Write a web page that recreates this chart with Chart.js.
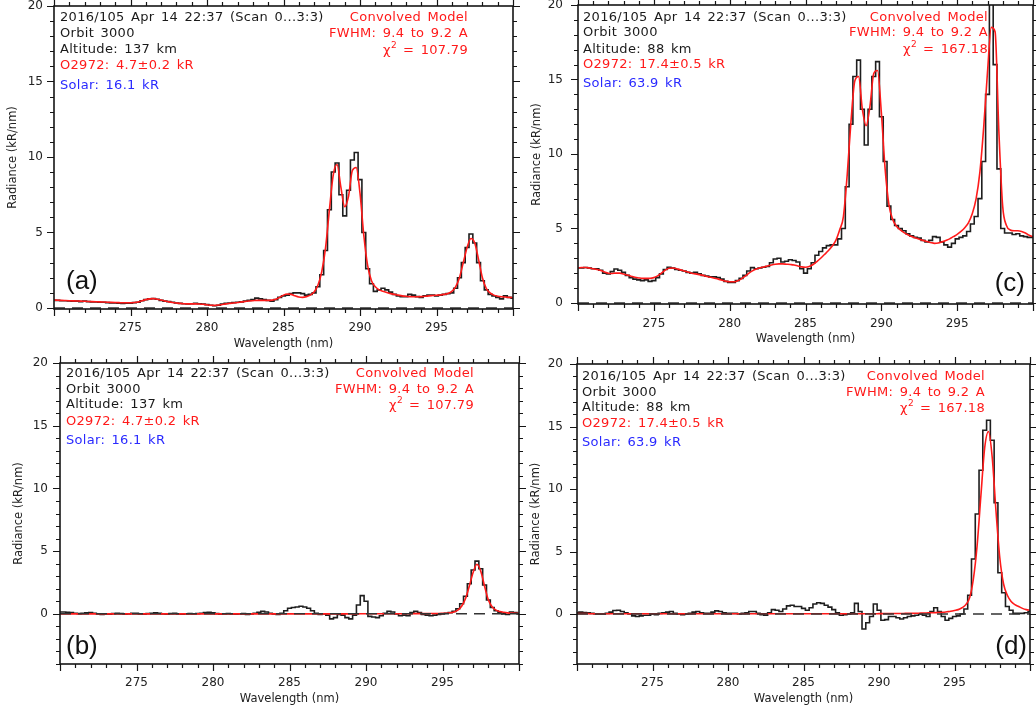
<!DOCTYPE html>
<html><head><meta charset="utf-8">
<script src="https://cdn.jsdelivr.net/npm/chart.js@4.4.1/dist/chart.umd.min.js"></script>
<style>
html,body{margin:0;padding:0;background:#fff;width:1036px;height:709px;overflow:hidden;position:relative;}
canvas{position:absolute;}
.t{position:absolute;font-family:"DejaVu Sans",sans-serif;font-size:13px;line-height:16px;white-space:nowrap;letter-spacing:0.3px;word-spacing:2px;}
.k{color:#1a1a1a}.red{color:#ff1a1a}.blue{color:#2a2aff}
.sup{font-size:9px;position:relative;top:-6px;letter-spacing:0;}
.lab{position:absolute;font-family:"Liberation Sans",Arial,sans-serif;font-size:26px;line-height:30px;color:#111;white-space:nowrap;}
</style></head><body>
<canvas id="ca"></canvas><canvas id="cc"></canvas><canvas id="cb"></canvas><canvas id="cd"></canvas>

<!-- panel (a) text -->
<div class="t k" style="left:60px;top:9px">2016/105 Apr 14 22:37 (Scan 0...3:3)</div>
<div class="t k" style="left:60px;top:25px">Orbit 3000</div>
<div class="t k" style="left:60px;top:41px">Altitude: 137 km</div>
<div class="t red" style="left:60px;top:57px">O2972: 4.7±0.2 kR</div>
<div class="t blue" style="left:60px;top:77px">Solar: 16.1 kR</div>
<div class="t red" style="right:568px;top:9px">Convolved Model</div>
<div class="t red" style="right:568px;top:25px">FWHM: 9.4 to 9.2 A</div>
<div class="t red" style="right:568px;top:42px">χ<span class="sup">2</span> = 107.79</div>
<div class="lab" style="left:66px;top:265px">(a)</div>

<!-- panel (c) text -->
<div class="t k" style="left:583px;top:9px">2016/105 Apr 14 22:37 (Scan 0...3:3)</div>
<div class="t k" style="left:583px;top:24px">Orbit 3000</div>
<div class="t k" style="left:583px;top:41px">Altitude: 88 km</div>
<div class="t red" style="left:583px;top:56px">O2972: 17.4±0.5 kR</div>
<div class="t blue" style="left:583px;top:75px">Solar: 63.9 kR</div>
<div class="t red" style="right:48px;top:9px">Convolved Model</div>
<div class="t red" style="right:48px;top:24px">FWHM: 9.4 to 9.2 A</div>
<div class="t red" style="right:48px;top:41px">χ<span class="sup">2</span> = 167.18</div>
<div class="lab" style="right:11px;top:267px">(c)</div>

<!-- panel (b) text -->
<div class="t k" style="left:66px;top:365px">2016/105 Apr 14 22:37 (Scan 0...3:3)</div>
<div class="t k" style="left:66px;top:381px">Orbit 3000</div>
<div class="t k" style="left:66px;top:396px">Altitude: 137 km</div>
<div class="t red" style="left:66px;top:413px">O2972: 4.7±0.2 kR</div>
<div class="t blue" style="left:66px;top:432px">Solar: 16.1 kR</div>
<div class="t red" style="right:562px;top:365px">Convolved Model</div>
<div class="t red" style="right:562px;top:381px">FWHM: 9.4 to 9.2 A</div>
<div class="t red" style="right:562px;top:397px">χ<span class="sup">2</span> = 107.79</div>
<div class="lab" style="left:66px;top:630px">(b)</div>

<!-- panel (d) text -->
<div class="t k" style="left:582px;top:368px">2016/105 Apr 14 22:37 (Scan 0...3:3)</div>
<div class="t k" style="left:582px;top:384px">Orbit 3000</div>
<div class="t k" style="left:582px;top:399px">Altitude: 88 km</div>
<div class="t red" style="left:582px;top:415px">O2972: 17.4±0.5 kR</div>
<div class="t blue" style="left:582px;top:434px">Solar: 63.9 kR</div>
<div class="t red" style="right:51px;top:368px">Convolved Model</div>
<div class="t red" style="right:51px;top:384px">FWHM: 9.4 to 9.2 A</div>
<div class="t red" style="right:51px;top:400px">χ<span class="sup">2</span> = 167.18</div>
<div class="lab" style="right:9px;top:630px">(d)</div>

<script>
// ---------- DATA ----------
const wavelength = [
  270.00,270.25,270.50,270.75,271.00,271.25,271.50,271.75,272.00,272.25,
  272.50,272.75,273.00,273.25,273.50,273.75,274.00,274.25,274.50,274.75,
  275.00,275.25,275.50,275.75,276.00,276.25,276.50,276.75,277.00,277.25,
  277.50,277.75,278.00,278.25,278.50,278.75,279.00,279.25,279.50,279.75,
  280.00,280.25,280.50,280.75,281.00,281.25,281.50,281.75,282.00,282.25,
  282.50,282.75,283.00,283.25,283.50,283.75,284.00,284.25,284.50,284.75,
  285.00,285.25,285.50,285.75,286.00,286.25,286.50,286.75,287.00,287.25,
  287.50,287.75,288.00,288.25,288.50,288.75,289.00,289.25,289.50,289.75,
  290.00,290.25,290.50,290.75,291.00,291.25,291.50,291.75,292.00,292.25,
  292.50,292.75,293.00,293.25,293.50,293.75,294.00,294.25,294.50,294.75,
  295.00,295.25,295.50,295.75,296.00,296.25,296.50,296.75,297.00,297.25,
  297.50,297.75,298.00,298.25,298.50,298.75,299.00,299.25,299.50,299.75,
  300.00];

// (a) 137 km, total
const obsA = [
  0.50,0.50,0.48,0.48,0.47,0.45,0.45,0.42,0.45,0.42,
  0.40,0.40,0.38,0.38,0.35,0.33,0.33,0.32,0.30,0.32,
  0.32,0.35,0.38,0.48,0.55,0.60,0.62,0.58,0.50,0.45,
  0.42,0.38,0.33,0.30,0.28,0.27,0.28,0.30,0.28,0.25,
  0.22,0.18,0.15,0.18,0.25,0.30,0.32,0.35,0.38,0.40,
  0.45,0.50,0.55,0.65,0.60,0.55,0.50,0.45,0.55,0.70,
  0.80,0.85,0.95,1.00,1.00,0.95,0.85,0.90,1.00,1.40,
  2.20,3.80,6.50,9.00,9.60,7.50,6.10,7.80,9.80,10.30,
  8.50,5.00,2.60,1.60,1.10,1.20,1.30,1.20,1.05,0.90,
  0.80,0.75,0.75,0.90,0.85,0.75,0.70,0.80,0.85,0.85,
  0.80,0.85,0.90,0.95,1.00,1.30,2.00,3.00,4.00,4.90,
  4.30,3.00,1.80,1.20,0.90,0.80,0.70,0.60,0.80,0.70,
  0.65];
const modelA = [
  0.52,0.51,0.50,0.49,0.48,0.47,0.46,0.45,0.44,0.43,
  0.42,0.41,0.40,0.39,0.38,0.37,0.36,0.35,0.34,0.34,
  0.34,0.36,0.40,0.48,0.55,0.60,0.62,0.58,0.52,0.46,
  0.40,0.36,0.33,0.30,0.28,0.27,0.27,0.27,0.26,0.24,
  0.21,0.18,0.17,0.19,0.23,0.27,0.30,0.33,0.36,0.40,
  0.43,0.46,0.48,0.50,0.50,0.50,0.50,0.52,0.58,0.70,
  0.85,0.92,0.90,0.80,0.72,0.70,0.75,0.85,1.05,1.50,
  2.40,4.00,6.50,8.80,9.50,8.00,6.70,7.40,9.10,9.30,
  7.60,4.80,2.80,1.80,1.40,1.20,1.10,1.02,0.95,0.90,
  0.85,0.80,0.77,0.75,0.74,0.74,0.75,0.77,0.80,0.82,
  0.84,0.86,0.90,0.96,1.10,1.40,2.00,3.00,4.00,4.60,
  4.30,3.20,2.00,1.30,1.00,0.85,0.78,0.74,0.72,0.70,
  0.69];

// (c) 88 km, total
const obsC = [
  2.35,2.35,2.38,2.35,2.30,2.30,2.20,2.00,1.95,2.10,
  2.28,2.20,2.05,1.85,1.70,1.60,1.55,1.50,1.55,1.45,
  1.50,1.70,1.95,2.25,2.40,2.35,2.25,2.20,2.15,2.05,
  2.00,2.05,1.95,1.85,1.80,1.75,1.75,1.70,1.60,1.45,
  1.38,1.38,1.50,1.65,1.85,2.15,2.37,2.30,2.35,2.40,
  2.45,2.70,2.95,3.00,2.75,2.80,2.90,2.85,2.75,2.30,
  2.00,2.30,2.70,3.20,3.45,3.70,3.85,3.90,3.90,4.30,
  5.00,7.80,12.00,15.20,16.30,13.00,10.60,13.00,15.20,16.20,
  12.50,9.50,6.50,5.60,5.20,5.00,4.85,4.65,4.50,4.40,
  4.35,4.20,4.10,4.20,4.45,4.40,4.10,3.90,3.75,4.00,
  4.30,4.40,4.50,4.80,5.30,5.80,7.00,9.50,14.00,20.50,
  16.00,9.00,5.00,4.70,4.70,4.60,4.65,4.50,4.45,4.40,
  4.40];
const modelC = [
  2.35,2.38,2.38,2.35,2.30,2.25,2.18,2.08,2.00,1.98,
  2.00,2.00,1.95,1.88,1.80,1.72,1.68,1.65,1.65,1.65,
  1.70,1.82,2.00,2.20,2.33,2.35,2.30,2.22,2.15,2.08,
  2.00,1.95,1.90,1.85,1.78,1.72,1.66,1.60,1.52,1.46,
  1.42,1.42,1.48,1.60,1.78,1.98,2.15,2.28,2.36,2.42,
  2.48,2.55,2.60,2.62,2.62,2.60,2.58,2.55,2.48,2.42,
  2.40,2.45,2.58,2.78,3.00,3.25,3.50,3.80,4.20,4.90,
  5.80,8.60,12.20,14.90,15.20,13.00,11.90,13.20,15.40,15.60,
  12.80,9.00,6.60,5.60,5.15,4.90,4.72,4.58,4.46,4.36,
  4.28,4.20,4.12,4.06,4.00,4.02,4.10,4.20,4.30,4.45,
  4.60,4.80,5.05,5.40,6.00,7.00,8.80,11.80,15.50,18.50,
  18.20,11.50,6.50,5.20,4.90,4.85,4.85,4.80,4.70,4.55,
  4.45];

// (b) 137 km, solar removed
const obsB = [
  0.15,0.15,0.12,0.10,0.05,0.02,0.05,0.08,0.10,0.05,
  0.00,-0.05,0.00,-0.03,0.02,0.05,0.03,-0.02,0.00,0.05,
  0.05,0.00,-0.03,0.02,0.05,0.08,0.05,0.00,-0.02,0.03,
  0.05,0.00,-0.03,0.00,0.02,0.00,0.02,0.05,0.10,0.12,
  0.08,0.02,-0.02,0.00,0.03,0.00,-0.03,0.00,0.02,-0.05,
  0.00,0.05,0.12,0.20,0.15,0.05,0.00,-0.05,0.05,0.25,
  0.45,0.50,0.55,0.60,0.55,0.45,0.25,0.05,-0.05,0.00,
  -0.10,-0.40,-0.30,-0.05,-0.10,-0.30,-0.40,-0.10,0.70,1.45,
  1.00,-0.20,-0.25,-0.30,-0.15,0.05,0.20,0.15,0.00,-0.15,
  -0.10,-0.15,0.10,0.20,0.10,-0.05,-0.10,-0.15,-0.10,-0.05,
  0.00,0.05,0.10,0.20,0.40,0.80,1.40,2.40,3.50,4.20,
  3.60,2.30,1.10,0.50,0.25,0.10,0.00,-0.05,0.15,0.10,
  0.00];
const modelB = [
  0.00,0.00,0.00,0.00,0.00,0.00,0.00,0.00,0.00,0.00,
  0.00,0.00,0.00,0.00,0.00,0.00,0.00,0.00,0.00,0.00,
  0.00,0.00,0.00,0.00,0.00,0.00,0.00,0.00,0.00,0.00,
  0.00,0.00,0.00,0.00,0.00,0.00,0.00,0.00,0.00,0.00,
  0.00,0.00,0.00,0.00,0.00,0.00,0.00,0.00,0.00,0.00,
  0.00,0.00,0.00,0.00,0.00,0.00,0.00,0.00,0.00,0.00,
  0.00,0.00,0.00,0.00,0.00,0.00,0.00,0.00,0.00,0.00,
  0.00,0.00,0.00,0.00,0.00,0.00,0.00,0.00,0.00,0.01,
  0.01,0.01,0.01,0.01,0.01,0.01,0.01,0.01,0.01,0.01,
  0.01,0.01,0.01,0.02,0.02,0.02,0.02,0.03,0.03,0.03,
  0.04,0.05,0.08,0.15,0.30,0.60,1.20,2.20,3.30,3.95,
  3.40,2.20,1.10,0.55,0.30,0.18,0.12,0.08,0.06,0.05,
  0.04];

// (d) 88 km, solar removed
const obsD = [
  0.10,0.15,0.12,0.10,0.05,0.00,0.00,0.00,0.05,0.15,
  0.28,0.30,0.20,0.10,0.00,-0.15,-0.20,-0.15,-0.10,-0.10,
  0.00,-0.05,0.05,0.10,0.15,0.20,0.05,0.00,-0.05,0.00,
  0.05,0.15,0.20,0.10,0.05,0.05,0.15,0.25,0.20,0.10,
  0.05,0.05,0.05,0.00,0.05,0.10,0.20,0.20,0.05,-0.05,
  -0.10,0.10,0.35,0.30,0.20,0.40,0.65,0.70,0.60,0.60,
  0.45,0.30,0.50,0.80,0.90,0.85,0.70,0.55,0.35,0.10,
  -0.10,-0.05,0.00,0.10,0.85,0.20,-1.20,-0.70,-0.20,0.80,
  0.30,-0.50,-0.45,-0.20,-0.20,-0.30,-0.40,-0.30,-0.20,-0.15,
  -0.10,0.00,-0.10,-0.20,0.20,0.50,0.20,-0.20,-0.50,-0.35,
  -0.20,-0.15,0.00,0.40,1.50,4.40,8.00,11.50,14.70,15.50,
  13.90,8.90,3.30,1.70,0.60,0.30,0.05,0.05,0.05,0.10,
  0.20];
const modelD = [
  0.03,0.03,0.03,0.03,0.02,0.02,0.02,0.02,0.02,0.02,
  0.02,0.02,0.02,0.02,0.02,0.02,0.02,0.02,0.02,0.02,
  0.02,0.02,0.02,0.02,0.02,0.02,0.02,0.02,0.02,0.02,
  0.02,0.02,0.02,0.02,0.02,0.02,0.02,0.02,0.02,0.02,
  0.02,0.02,0.02,0.02,0.02,0.02,0.02,0.02,0.02,0.02,
  0.02,0.02,0.02,0.02,0.02,0.02,0.02,0.02,0.02,0.02,
  0.02,0.02,0.02,0.02,0.02,0.02,0.02,0.02,0.02,0.02,
  0.02,0.02,0.02,0.02,0.02,0.02,0.02,0.02,0.02,0.02,
  0.03,0.03,0.03,0.03,0.04,0.04,0.04,0.05,0.05,0.05,
  0.06,0.07,0.08,0.09,0.10,0.11,0.12,0.14,0.18,0.22,
  0.28,0.35,0.50,0.75,1.30,2.80,5.50,9.50,13.30,14.60,
  12.50,8.20,4.50,2.40,1.50,1.00,0.75,0.60,0.45,0.35,
  0.30];

const xTickLabels = [275, 280, 285, 290, 295];
const yTickLabels = [0, 5, 10, 15, 20];
const xRange = [270, 300];
const yRangeTop = [-0.07, 20];
const yRangeBottom = [-4, 20];

// ---------- drawing helpers ----------
const boxTicks = {
  id: 'boxTicks',
  afterDraw(chart) {
    const {ctx, chartArea: {left, right, top, bottom}, scales: {x, y}} = chart;
    ctx.save();
    ctx.strokeStyle = '#151515';
    ctx.lineWidth = 1.2;
    ctx.beginPath();
    for (let v = Math.ceil(x.min); v <= Math.floor(x.max); v++) {
      const px = Math.round(x.getPixelForValue(v)) + 0.5;
      const len = v % 5 === 0 ? 7 : 4;
      ctx.moveTo(px, bottom); ctx.lineTo(px, bottom + len);
      ctx.moveTo(px, top); ctx.lineTo(px, top - len);
    }
    for (let v = Math.ceil(y.min); v <= Math.floor(y.max); v++) {
      const py = Math.round(y.getPixelForValue(v)) + 0.5;
      const len = v % 5 === 0 ? 7 : 4;
      ctx.moveTo(left, py); ctx.lineTo(left - len, py);
      ctx.moveTo(right, py); ctx.lineTo(right + len, py);
    }
    ctx.stroke();
    ctx.lineWidth = 1.6;
    ctx.strokeRect(left, top, right - left, bottom - top);
    ctx.restore();
  }
};

function pts(vals) { return wavelength.map((w, i) => ({x: w, y: vals[i]})); }

function makePanel(id, g, obs, model, yRange) {
  const cv = document.getElementById(id);
  cv.width = g.cw; cv.height = g.ch;
  cv.style.left = g.cl + 'px'; cv.style.top = g.ct + 'px';
  cv.style.width = g.cw + 'px'; cv.style.height = g.ch + 'px';
  const font = {family: '"DejaVu Sans", sans-serif'};
  new Chart(cv, {
    type: 'line',
    data: {
      datasets: [
        {data: [{x: xRange[0], y: 0}, {x: xRange[1], y: 0}], borderColor: '#333',
         borderWidth: 1.5, borderDash: [11, 7], pointRadius: 0, order: 0},
        {data: pts(model), borderColor: '#ff1a1a', borderWidth: 1.6, pointRadius: 0,
         cubicInterpolationMode: 'monotone', order: 1},
        {data: pts(obs), borderColor: '#1e1e1e', borderWidth: 1.6, pointRadius: 0,
         stepped: 'middle', order: 2}
      ]
    },
    options: {
      responsive: false, animation: false, devicePixelRatio: 1,
      layout: {padding: {left: 0, top: g.T - g.ct, right: g.cl + g.cw - g.R, bottom: 0}},
      plugins: {legend: {display: false}, tooltip: {enabled: false}},
      scales: {
        x: {
          type: 'linear', min: xRange[0], max: xRange[1],
          grid: {display: false, drawTicks: false}, border: {display: false},
          afterBuildTicks: s => { s.ticks = xTickLabels.map(v => ({value: v})); },
          afterFit: s => { s.height = g.ct + g.ch - g.B; s.paddingLeft = 0; s.paddingRight = 0; },
          ticks: {padding: g.xTickPad, color: '#222', font: {...font, size: 12}, maxRotation: 0,
                  callback: v => String(v)},
          title: {display: true, text: 'Wavelength (nm)', color: '#222',
                  font: {...font, size: 11.5}, padding: {top: 0, bottom: g.xTitlePad}}
        },
        y: {
          type: 'linear', min: yRange[0], max: yRange[1],
          grid: {display: false, drawTicks: false}, border: {display: false},
          afterBuildTicks: s => { s.ticks = yTickLabels.map(v => ({value: v})); },
          afterFit: s => { s.width = g.L - g.cl; s.paddingTop = 0; s.paddingBottom = 0; },
          ticks: {padding: g.yTickPad, color: '#222', font: {...font, size: 12},
                  callback: v => String(v)},
          title: {display: true, text: 'Radiance (kR/nm)', color: '#222',
                  font: {...font, size: 11.5}, padding: {top: g.yTitlePad, bottom: 0}}
        }
      }
    },
    plugins: [boxTicks]
  });
}

makePanel('ca', {cl: 0, ct: -4, cw: 525, ch: 359, L: 54, T: 6, R: 513, B: 309,
  yTickPad: 11, xTickPad: 12, xTitlePad: 4, yTitlePad: 6}, obsA, modelA, yRangeTop);
makePanel('cc', {cl: 520, ct: -5, cw: 526, ch: 355, L: 578, T: 5, R: 1033, B: 304,
  yTickPad: 15, xTickPad: 13, xTitlePad: 4, yTitlePad: 10}, obsC, modelC, yRangeTop);
makePanel('cb', {cl: 0, ct: 353, cw: 531, ch: 356, L: 60, T: 363, R: 519, B: 664,
  yTickPad: 12, xTickPad: 12, xTitlePad: 3, yTitlePad: 12}, obsB, modelB, yRangeBottom);
makePanel('cd', {cl: 520, ct: 354, cw: 526, ch: 355, L: 577, T: 364, R: 1030, B: 664,
  yTickPad: 14, xTickPad: 12, xTitlePad: 3, yTitlePad: 9}, obsD, modelD, yRangeBottom);
</script>
</body></html>
